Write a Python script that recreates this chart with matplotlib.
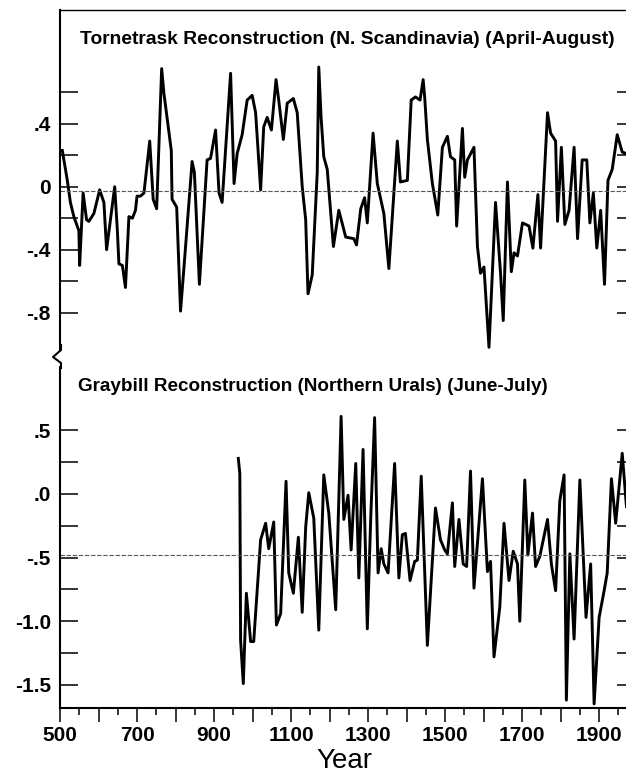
import matplotlib
matplotlib.use("Agg")
import matplotlib.pyplot as plt
from matplotlib.lines import Line2D
from matplotlib.ticker import MultipleLocator

plt.rcParams['font.family'] = ['Liberation Sans', 'DejaVu Sans']

# Tornetrask reconstruction (N. Scandinavia), April-August
torne_years = [506, 519, 527, 536, 549, 551, 560, 569, 575, 588,
               603, 614, 621, 631, 642, 649, 653, 662, 670, 679,
               688, 696, 700, 709, 718, 733, 742, 751, 764, 770,
               778, 789, 791, 803, 813, 822, 843, 849, 862, 874,
               882, 891, 904, 913, 921, 943, 952, 960, 973, 986,
               999, 1008, 1021, 1029, 1038, 1049, 1061, 1068, 1080, 1090,
               1106, 1116, 1129, 1138, 1144, 1155, 1168, 1172, 1178, 1185,
               1194, 1203, 1210, 1224, 1242, 1263, 1270, 1281, 1291, 1298,
               1313, 1324, 1341, 1354, 1376, 1384, 1402, 1412, 1423, 1435,
               1443, 1447, 1454, 1467, 1481, 1493, 1506, 1514, 1525, 1530,
               1545, 1551, 1558, 1575, 1584, 1592, 1601, 1614, 1631, 1644,
               1651, 1662, 1672, 1679, 1688, 1701, 1718, 1728, 1741, 1748,
               1766, 1774, 1787, 1792, 1802, 1811, 1822, 1835, 1844, 1856,
               1868, 1876, 1885, 1894, 1904, 1914, 1923, 1934, 1947, 1960,
               1971]
torne_values = [0.23, 0.04, -0.10, -0.19, -0.28, -0.50, -0.04, -0.21, -0.22, -0.17,
                -0.02, -0.10, -0.40, -0.21, 0.00, -0.28, -0.49, -0.50, -0.64, -0.19,
                -0.20, -0.15, -0.06, -0.06, -0.04, 0.29, -0.08, -0.14, 0.75, 0.59,
                0.44, 0.23, -0.08, -0.13, -0.79, -0.51, 0.16, 0.09, -0.62, -0.15,
                0.17, 0.18, 0.36, -0.04, -0.10, 0.72, 0.02, 0.21, 0.33, 0.55,
                0.58, 0.47, -0.02, 0.38, 0.44, 0.36, 0.68, 0.55, 0.30, 0.53,
                0.56, 0.47, 0.00, -0.21, -0.68, -0.56, 0.09, 0.76, 0.44, 0.19,
                0.11, -0.17, -0.38, -0.15, -0.32, -0.33, -0.37, -0.14, -0.07, -0.23,
                0.34, 0.02, -0.17, -0.52, 0.29, 0.03, 0.04, 0.55, 0.57, 0.55,
                0.68, 0.57, 0.30, 0.02, -0.18, 0.25, 0.32, 0.19, 0.17, -0.25,
                0.37, 0.06, 0.17, 0.25, -0.38, -0.55, -0.51, -1.02, -0.10, -0.55,
                -0.85, 0.03, -0.54, -0.42, -0.44, -0.23, -0.25, -0.39, -0.05, -0.39,
                0.47, 0.34, 0.29, -0.22, 0.25, -0.24, -0.15, 0.25, -0.33, 0.17,
                0.17, -0.23, -0.04, -0.39, -0.15, -0.62, 0.04, 0.11, 0.33, 0.22,
                0.21]
torne_mean = -0.025

# Graybill reconstruction (Northern Urals), June-July
gray_years = [963, 967, 969, 976, 984, 995, 1003, 1021, 1034, 1042,
              1055, 1062, 1073, 1087, 1094, 1106, 1119, 1129, 1138, 1146,
              1159, 1172, 1185, 1198, 1216, 1230, 1237, 1248, 1256, 1268,
              1276, 1287, 1298, 1307, 1317, 1326, 1334, 1341, 1352, 1369,
              1380, 1389, 1397, 1409, 1421, 1428, 1438, 1454, 1475, 1488,
              1499, 1506, 1519, 1525, 1536, 1547, 1556, 1566, 1575, 1597,
              1610, 1618, 1627, 1642, 1653, 1666, 1677, 1688, 1694, 1707,
              1715, 1727, 1735, 1746, 1766, 1776, 1787, 1798, 1809, 1815,
              1824, 1835, 1850, 1866, 1878, 1887, 1900, 1913, 1921, 1932,
              1943, 1960, 1971]
gray_values = [0.28, 0.16, -1.15, -1.49, -0.78, -1.16, -1.16, -0.36, -0.23, -0.43,
               -0.22, -1.03, -0.94, 0.10, -0.62, -0.78, -0.34, -0.93, -0.26, 0.01,
               -0.19, -1.07, 0.15, -0.15, -0.91, 0.61, -0.20, -0.01, -0.44, 0.24,
               -0.66, 0.35, -1.06, -0.18, 0.60, -0.62, -0.43, -0.55, -0.62, 0.24,
               -0.66, -0.32, -0.31, -0.68, -0.53, -0.52, 0.14, -1.19, -0.11, -0.36,
               -0.44, -0.47, -0.07, -0.57, -0.20, -0.55, -0.57, 0.18, -0.74, 0.12,
               -0.61, -0.53, -1.28, -0.89, -0.23, -0.68, -0.45, -0.55, -1.00, 0.11,
               -0.48, -0.15, -0.57, -0.49, -0.20, -0.55, -0.76, -0.05, 0.15, -1.62,
               -0.47, -1.14, 0.11, -0.97, -0.55, -1.65, -0.97, -0.76, -0.62, 0.12,
               -0.23, 0.32, -0.10]
gray_mean = -0.48

# Axis ticks and their labels
torne_ticks = [-0.8, -0.4, 0.0, 0.4]
torne_ticklabels = ['-.8', '-.4', '0', '.4']
torne_minor = [-0.6, -0.2, 0.2, 0.6]
gray_ticks = [-1.5, -1.0, -0.5, 0.0, 0.5]
gray_ticklabels = ['-1.5', '-1.0', '-.5', '.0', '.5']
gray_minor = [-1.25, -0.75, -0.25, 0.25]
year_labels = [500, 700, 900, 1100, 1300, 1500, 1700, 1900]

W, H = 626, 773


def px_box(x0, y0, x1, y1):
    """Converts a pixel box (top-left origin) into a figure-fraction rect."""
    return [x0 / W, 1 - y1 / H, (x1 - x0) / W, (y1 - y0) / H]


def style_panel(ax, ticks, ticklabels, minor):
    """Applies the inward y ticks on both sides of a panel."""
    ax.set_yticks(ticks)
    ax.set_yticklabels(ticklabels, fontweight='bold')
    ax.set_yticks(minor, minor=True)
    ax.tick_params(axis='y', which='both', direction='in', length=13, width=1.1,
                   labelsize=15, pad=6.5, left=True, right=False)
    ax.spines['right'].set_visible(False)
    ax.spines['left'].set_linewidth(1.5)
    # Short ticks on the right edge
    sec = ax.secondary_yaxis('right')
    sec.set_yticks(ticks + minor)
    sec.tick_params(direction='in', length=8, width=1.1, labelright=False)
    sec.spines['right'].set_visible(False)


fig = plt.figure(figsize=(W / 100, H / 100), dpi=100)

# Upper panel
ax_top = fig.add_axes(px_box(60, 10, 628, 350))
ax_top.plot(torne_years, torne_values, color='black', lw=2.1)
ax_top.axhline(torne_mean, color='0.35', lw=0.8, ls=(0, (4, 1.5)))
ax_top.set_xlim(500, 1975)
ax_top.set_ylim(-1.037, 1.122)
style_panel(ax_top, torne_ticks, torne_ticklabels, torne_minor)
ax_top.spines['bottom'].set_visible(False)
ax_top.spines['top'].set_linewidth(1.0)
ax_top.tick_params(axis='x', which='both', bottom=False, labelbottom=False)
ax_top.text(0.035, 0.912, 'Tornetrask Reconstruction (N. Scandinavia) (April-August)',
            transform=ax_top.transAxes, fontsize=13.9, fontweight='bold', va='center')

# Lower panel
ax_bot = fig.add_axes(px_box(60, 367, 628, 708))
ax_bot.plot(gray_years, gray_values, color='black', lw=2.1)
ax_bot.axhline(gray_mean, color='0.35', lw=0.8, ls=(0, (4, 1.5)))
ax_bot.set_ylim(-1.682, 0.998)
style_panel(ax_bot, gray_ticks, gray_ticklabels, gray_minor)
ax_bot.spines['top'].set_visible(False)
ax_bot.spines['bottom'].set_linewidth(1.5)

# Long ticks every 100 years, short every 50, labels every 200
ax_bot.xaxis.set_major_locator(MultipleLocator(100))
ax_bot.xaxis.set_minor_locator(MultipleLocator(50))
ax_bot.set_xlim(500, 1975)
ax_bot.set_xticklabels([str(int(t)) if int(t) in year_labels else ''
                        for t in ax_bot.get_xticks()], fontweight='bold')
ax_bot.tick_params(axis='x', which='major', direction='out', length=10, width=1.1,
                   labelsize=15, pad=3)
ax_bot.tick_params(axis='x', which='minor', direction='out', length=5, width=1.1)
ax_bot.set_xlabel('Year', fontsize=20, labelpad=2)
ax_bot.text(0.032, 0.944, 'Graybill Reconstruction (Northern Urals) (June-July)',
            transform=ax_bot.transAxes, fontsize=13.6, fontweight='bold', va='center')

# Axis break on the left spine between the two panels
bx = [61, 61, 53, 61, 61]
by = [345, 350, 357, 363, 368]
fig.add_artist(Line2D([x / W for x in bx], [1 - y / H for y in by],
                      transform=fig.transFigure, color='black', lw=1.5))

fig.savefig('out.png', dpi=100)
